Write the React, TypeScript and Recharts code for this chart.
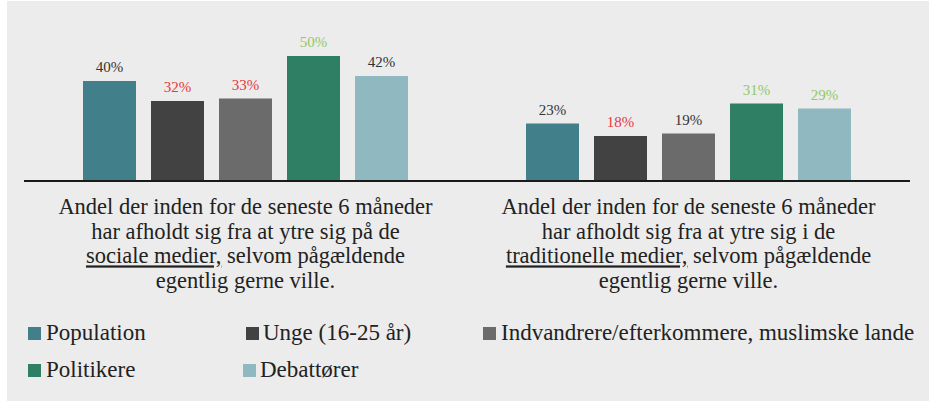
import React from "react";
import { BarChart, Bar, XAxis, YAxis, LabelList } from "recharts";

// Values in percent
const categories = ["sociale medier", "traditionelle medier"];
const population = [40, 23];
const unge = [32, 18];
const indvandrere = [33, 19];
const politikere = [50, 31];
const debattorer = [42, 29];

const seriesNames = [
  "Population",
  "Unge (16-25 år)",
  "Indvandrere/efterkommere, muslimske lande",
  "Politikere",
  "Debattører",
];

// Category label text: [before underline, underlined, after underline] per line
const categoryLines = [
  [
    ["Andel der inden for de seneste 6 måneder", "", ""],
    ["har afholdt sig fra at ytre sig på de", "", ""],
    ["", "sociale medier,", " selvom pågældende"],
    ["egentlig gerne ville.", "", ""],
  ],
  [
    ["Andel der inden for de seneste 6 måneder", "", ""],
    ["har afholdt sig fra at ytre sig i de", "", ""],
    ["", "traditionelle medier,", " selvom pågældende"],
    ["egentlig gerne ville.", "", ""],
  ],
];

const FONT = "Liberation Serif";
const DARK = "#333333";
const RED = "#e8383a";
const GREEN = "#92c867";

const barColors = ["#41808b", "#424242", "#6b6b6b", "#2e7f63", "#90b8c0"];
// value label colours per series, per category
const labelColors = [
  [DARK, DARK],
  [RED, RED],
  [RED, DARK],
  [GREEN, GREEN],
  [DARK, GREEN],
];

const data = categories.map((c, i) => ({
  name: c,
  s0: population[i],
  s1: unge[i],
  s2: indvandrere[i],
  s3: politikere[i],
  s4: debattorer[i],
}));

const CategoryTick = (props: any) => {
  const { x, y, index } = props;
  const lines = categoryLines[index] || [];
  return (
    <g>
      {lines.map((ln, i) => (
        <text
          key={i}
          x={x}
          y={y + 25 + i * 24.7}
          textAnchor="middle"
          style={{ fontFamily: FONT, fontSize: 22.5 }}
          fill="#222"
        >
          {ln[0] && <tspan>{ln[0]}</tspan>}
          {ln[1] && (
            <tspan style={{ textDecoration: "underline" }}>{ln[1]}</tspan>
          )}
          {ln[2] && <tspan>{ln[2]}</tspan>}
        </text>
      ))}
    </g>
  );
};

const makeLabel = (s: number) => (props: any) => {
  const { x, y, width, value, index } = props;
  return (
    <text
      x={x + width / 2}
      y={y - 9}
      textAnchor="middle"
      style={{ fontFamily: FONT, fontSize: 15 }}
      fill={labelColors[s][index]}
    >
      {value}%
    </text>
  );
};

const legendItems = [
  { sq: 28, tx: 46, row: 0 },
  { sq: 246, tx: 263, row: 0 },
  { sq: 483, tx: 501, row: 0 },
  { sq: 28, tx: 46, row: 1 },
  { sq: 243, tx: 260, row: 1 },
];

export default function App() {
  return (
    <div
      style={{
        position: "absolute",
        left: 0,
        top: 0,
        width: 929,
        height: 401,
        background: "#fff",
      }}
    >
      <div
        style={{
          position: "absolute",
          left: 7,
          top: 1,
          width: 922,
          height: 400,
          background: "#ececec",
        }}
      >
        <BarChart
          width={922}
          height={400}
          data={data}
          margin={{ top: 30, right: 19, bottom: 0, left: 17 }}
          barSize={53}
          barGap={15}
        >
          <YAxis hide domain={[0, 60]} />
          <XAxis
            dataKey="name"
            height={220}
            axisLine={{ stroke: "#1a1a1a", strokeWidth: 2 }}
            tickLine={false}
            tick={<CategoryTick />}
            interval={0}
          />
          {[0, 1, 2, 3, 4].map((s) => (
            <Bar
              key={s}
              dataKey={"s" + s}
              name={seriesNames[s]}
              fill={barColors[s]}
              isAnimationActive={false}
            >
              <LabelList dataKey={"s" + s} content={makeLabel(s)} />
            </Bar>
          ))}
        </BarChart>
        {legendItems.map((it, i) => (
          <React.Fragment key={i}>
            <div
              style={{
                position: "absolute",
                left: it.sq - 7,
                top: (it.row === 0 ? 327 : 364) - 1,
                width: 13,
                height: 13,
                background: barColors[i],
              }}
            />
            <div
              style={{
                position: "absolute",
                left: it.tx - 7,
                top: (it.row === 0 ? 320.7 : 357.7) - 1,
                fontFamily: FONT,
                fontSize: 23,
                lineHeight: "23px",
                color: "#222",
                whiteSpace: "nowrap",
              }}
            >
              {seriesNames[i]}
            </div>
          </React.Fragment>
        ))}
      </div>
    </div>
  );
}
